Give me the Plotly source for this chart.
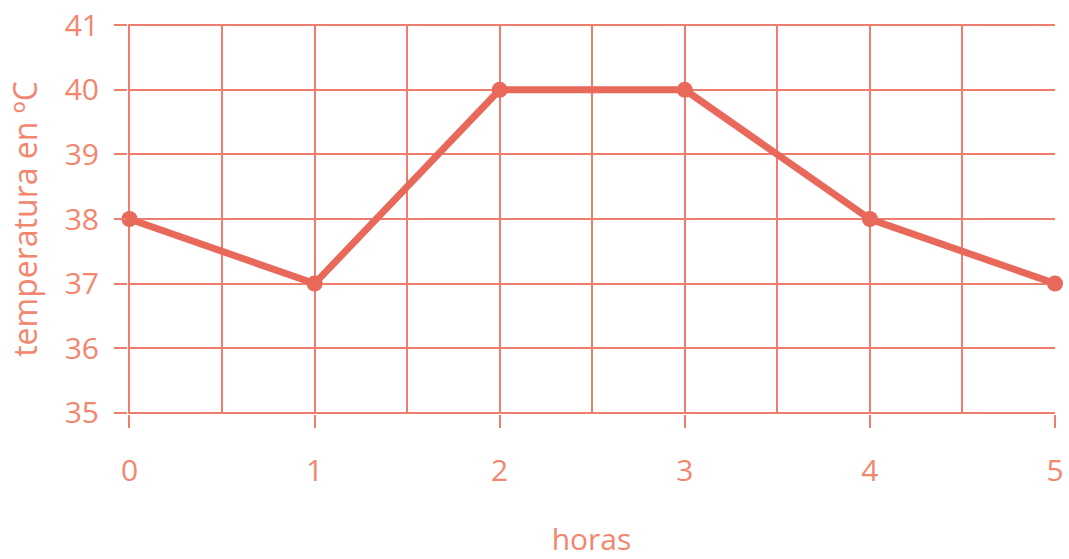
import plotly.graph_objects as go

horas = [0, 1, 2, 3, 4, 5]
temperatura = [38, 37, 40, 40, 38, 37]
x_ticks = [0, 1, 2, 3, 4, 5]
x_grid = [0, 0.5, 1, 1.5, 2, 2.5, 3, 3.5, 4, 4.5]
y_ticks = [35, 36, 37, 38, 39, 40, 41]

LINE = "#E8685A"
GRID = "#EE7D6E"
TEXT = "#F2866E"
FONT = "Open Sans"
FS = 30

fig = go.Figure()
fig.add_trace(go.Scatter(
    x=horas, y=temperatura, mode="lines+markers",
    line=dict(color=LINE, width=7),
    marker=dict(color=LINE, size=16),
    cliponaxis=False, showlegend=False,
))

fig.update_layout(
    width=1069, height=559,
    margin=dict(l=128, r=14, t=24, b=145),
    paper_bgcolor="white", plot_bgcolor="white",
    font=dict(family=FONT, color=TEXT, size=FS),
    xaxis=dict(
        range=[-0.008, 5], tickvals=x_ticks, showgrid=False, zeroline=False,
        ticks="outside", ticklen=13, tickwidth=2.2, tickcolor=GRID,
        tickfont=dict(size=FS, color=TEXT), ticklabelstandoff=17,
        ticklabeloverflow="allow",
        title=dict(text="horas", font=dict(size=FS, color=TEXT), standoff=52),
        showline=False, automargin=False,
        minor=dict(tickvals=x_grid, showgrid=True, gridcolor=GRID,
                   gridwidth=2.2, ticks=""),
    ),
    yaxis=dict(
        range=[34.98, 41.02], tickvals=y_ticks, showgrid=True, gridcolor=GRID,
        gridwidth=2.2, zeroline=False, ticks="outside", ticklen=13,
        tickwidth=2.2, tickcolor=GRID, tickfont=dict(size=FS, color=TEXT),
        ticklabelstandoff=9, ticklabeloverflow="allow",
        title=dict(text="temperatura en ºC", font=dict(size=32, color=TEXT), standoff=17),
        showline=False, automargin=False,
    ),
)

fig.write_html(
    "out.html",
    config={"displayModeBar": False},
    post_script="document.body.style.margin='0px';document.body.style.overflow='hidden';",
)
